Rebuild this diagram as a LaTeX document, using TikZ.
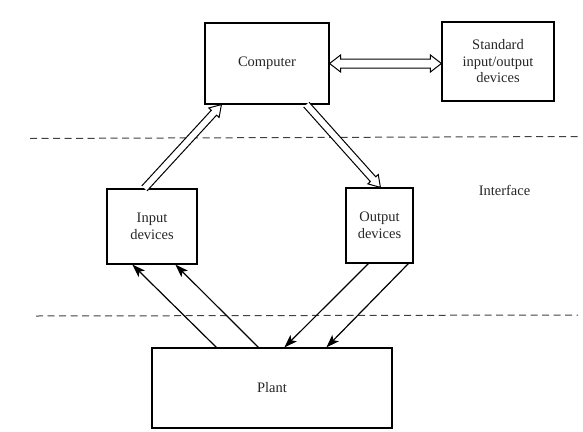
\documentclass[tikz,border=0pt]{standalone}
\usepackage{fontspec}
\setmainfont{Liberation Serif}
\usetikzlibrary{calc,arrows.meta}

% hollow (outlined) arrow from #1 to #2, one head at #2
\newcommand\hollowarrow[2]{%
  \coordinate (ha-m) at ($(#2)!11pt!(#1)$);
  \draw[hollow]
    ($(#1)!3.6pt!90:(#2)$) -- ($(ha-m)!3.6pt!90:(#2)$) -- ($(ha-m)!7pt!90:(#2)$) --
    (#2) --
    ($(ha-m)!7pt!-90:(#2)$) -- ($(ha-m)!3.6pt!-90:(#2)$) -- ($(#1)!3.6pt!-90:(#2)$);
}
% hollow arrow with heads at both ends
\newcommand\hollowdoublearrow[2]{%
  \coordinate (hd-a) at ($(#1)!11pt!(#2)$);
  \coordinate (hd-b) at ($(#2)!11pt!(#1)$);
  \draw[hollow]
    (#1) -- ($(hd-a)!8.5pt!90:(#2)$) -- ($(hd-a)!4.5pt!90:(#2)$) --
    ($(hd-b)!4.5pt!90:(#2)$) -- ($(hd-b)!8.5pt!90:(#2)$) -- (#2) --
    ($(hd-b)!8.5pt!-90:(#2)$) -- ($(hd-b)!4.5pt!-90:(#2)$) --
    ($(hd-a)!4.5pt!-90:(#2)$) -- ($(hd-a)!8.5pt!-90:(#2)$) -- cycle;
}

\begin{document}
\begin{tikzpicture}[x=1pt,y=-1pt,
  every node/.style={font=\fontsize{14.5}{16.5}\selectfont, text=black!85},
  block/.style={draw, line width=1.2pt, align=center, inner sep=0pt},
  hollow/.style={draw, line width=1pt, line join=miter, fill=white},
  signal/.style={line width=1.2pt, -{Stealth[length=13pt,width=9pt,inset=3pt]}},
  boundary/.style={line width=1pt, dash pattern=on 7pt off 4.5pt, draw=black!75}]

\useasboundingbox (0,0) rectangle (583,431);

% boundaries of the interface region
\coordinate (b1l) at (30,138.5);
\coordinate (b1r) at (578,136.5);
\coordinate (b2l) at (36,316);
\coordinate (b2r) at (578,315);
\draw[boundary] (b1l) -- (b1r);
\draw[boundary] (b2l) -- (b2r);

% blocks
\node[block, minimum width=124pt, minimum height=81pt] (comp) at (267,63.5) {Computer};
\node[block, minimum width=112pt, minimum height=79pt] (std) at (498,61.5)
  {Standard\\input/output\\devices};
\node[block, minimum width=90pt, minimum height=75pt] (inp) at (152,226.5)
  {Input\\devices};
\node[block, minimum width=67pt, minimum height=75pt] (out) at (379.5,225.5)
  {Output\\devices};
\node[block, minimum width=240pt, minimum height=80pt] (plant) at (272,388) {Plant};

\node (iface) at (504.5,190) {Interface};

% computer side: hollow data paths
\coordinate (c-in)  at ($(comp.south west)+(17,0)$);
\coordinate (c-out) at ($(comp.south west)+(102,0)$);
\coordinate (i-up)  at ($(inp.north west)+(38,0)$);
\coordinate (o-dn)  at ($(out.north west)+(35,0)$);
\hollowarrow{i-up}{c-in}
\hollowarrow{c-out}{o-dn}

\coordinate (s-w) at (std.west |- comp.east);
\hollowdoublearrow{comp.east}{s-w}

% plant side: signal lines
\draw[signal] ($(plant.north west)+(65,0)$)  -- ($(inp.south west)+(26,0)$);
\draw[signal] ($(plant.north west)+(107,0)$) -- ($(inp.south west)+(69,0)$);
\draw[signal] ($(out.south west)+(23,0)$) -- ($(plant.north west)+(133,0)$);
\draw[signal] ($(out.south west)+(63,0)$) -- ($(plant.north west)+(175,0)$);

\end{tikzpicture}
\end{document}
